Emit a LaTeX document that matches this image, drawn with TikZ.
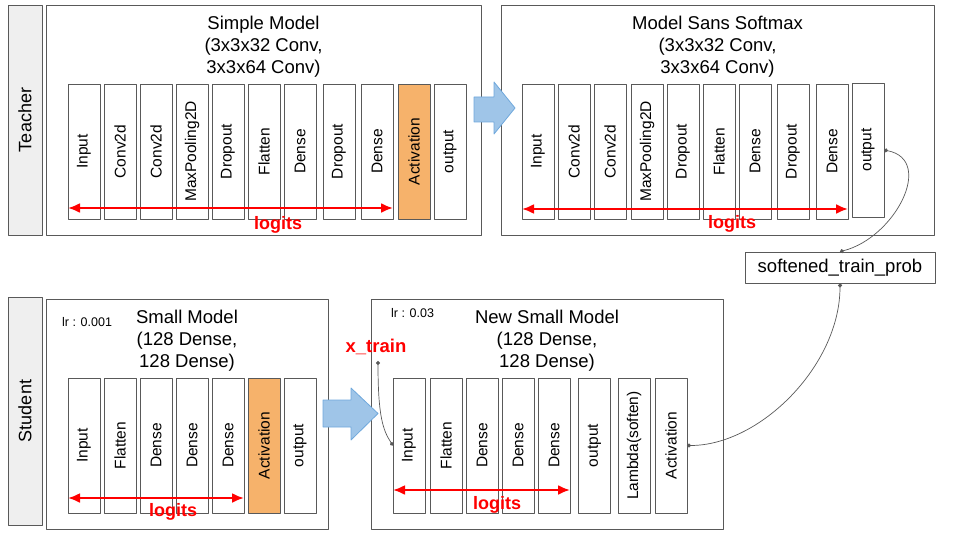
\documentclass[tikz,border=0pt]{standalone}
\usepackage{fontspec}
\setmainfont{Liberation Sans}
\usetikzlibrary{arrows.meta,positioning}
\definecolor{lineg}{HTML}{595959}
\definecolor{sidefill}{HTML}{EFEFEF}
\definecolor{actfill}{HTML}{F6B26B}
\definecolor{pushfill}{HTML}{9FC5E8}
\definecolor{pushline}{HTML}{6FA8DC}
\definecolor{logred}{HTML}{FF0000}
\begin{document}
\begin{tikzpicture}[x=1pt,y=-1pt,line join=round]
	\tikzset{layer/.style={draw=lineg,line width=.8pt,rotate=90,minimum width=135pt,minimum height=32pt,
			inner sep=0pt,outer sep=0pt,font=\fontsize{15.5}{18}\selectfont},
		act/.style={layer,fill=actfill},
		frame/.style={draw=lineg,line width=.8pt,minimum height=230pt,inner sep=0pt,outer sep=0pt},
		side/.style={frame,fill=sidefill,rotate=90,minimum height=34pt,font=\fontsize{18}{22}\selectfont},
		title/.style={align=center,inner sep=0pt,font=\fontsize{18.5}{22}\selectfont},
		lr/.style={inner sep=0pt,anchor=west,font=\fontsize{12.5}{14}\selectfont},
		logit/.style={draw=logred,line width=2.2pt,{Latex[length=12pt,width=10pt]}-{Latex[length=12pt,width=10pt]}},
		logtext/.style={text=logred,font=\fontsize{18}{22}\selectfont\bfseries,inner sep=0pt},
		push/.style={draw=pushline,line width=.8pt,fill=pushfill},
		link/.style={draw=lineg,line width=.7pt,{Circle[length=4pt]}-{Circle[length=4pt]}}}
	\useasboundingbox (0,0) rectangle (960,540);
	\node[side,minimum width=230pt] (teach) at (25,120) {Teacher};
	\node[side,minimum width=228pt] (stud) at (25,411) {Student};
	\node[frame,minimum width=435pt] (M1) at (263.5,120) {};
	\node[frame,minimum width=433pt] (M2) at (717.5,120) {};
	\node[frame,minimum width=282pt] (M3) at (187,414) {};
	\node[frame,minimum width=352pt] (M4) at (547,414) {};
	\node[title,below=11pt of M1.north] {Simple Model\\(3x3x32 Conv,\\3x3x64 Conv)};
	\node[title,below=11pt of M2.north] {Model Sans Softmax\\(3x3x32 Conv,\\3x3x64 Conv)};
	\node[title,below=11pt of M3.north] {Small Model\\(128 Dense,\\128 Dense)};
	\node[title,below=11pt of M4.north] {New Small Model\\(128 Dense,\\128 Dense)};
	\node[lr] at (62,322) {lr : 0.001};
	\node[lr] at (391,313) {lr : 0.03};
	\foreach \x/\t [count=\i] in {84/Input,120/Conv2d,156/Conv2d,192/MaxPooling2D,228/Dropout,
		264/Flatten,300/Dense,339/Dropout,377/Dense}
	\node[layer] (A\i) at (\x,151.5) {\t};
	\node[act] (A10) at (414,151.5) {Activation};
	\node[layer] (A11) at (450,151.5) {output};
	\foreach \x/\t [count=\i] in {538/Input,574/Conv2d,610/Conv2d,647/MaxPooling2D,683/Dropout,
		719/Flatten,755/Dense,793/Dropout,832/Dense}
	\node[layer] (B\i) at (\x,151.5) {\t};
	\node[layer,minimum width=134pt] (B10) at (868,150) {output};
	\foreach \x/\t [count=\i] in {84/Input,120/Flatten,156/Dense,192/Dense,228/Dense}
	\node[layer] (C\i) at (\x,445.5) {\t};
	\node[act] (C6) at (264,445.5) {Activation};
	\node[layer] (C7) at (300,445.5) {output};
	\foreach \x/\t [count=\i] in {409/Input,446/Flatten,482/Dense,518/Dense,554/Dense,
		594.5/output,634/Lambda(soften),671/Activation}
	\node[layer] (D\i) at (\x,445.5) {\t};
	\draw[logit] ([shift={(0,56.5)}]A1.north) -- ([shift={(0,56.5)}]A9.south);
	\draw[logit] ([shift={(0,57.5)}]B1.north) -- ([shift={(0,57.5)}]B9.south);
	\draw[logit] ([shift={(0,52.5)}]C1.north) -- ([shift={(0,52.5)}]C5.south);
	\draw[logit] ([shift={(0,44.5)}]D1.north) -- ([shift={(0,44.5)}]D5.south);
	\foreach \p in {(278,225),(732,224),(173,512),(497,505)}
	\node[logtext] at \p {logits};
	\draw[push] (474,97) -- ++(20,0) -- ++(0,-15) -- (515,108) -- (494,134) -- ++(0,-12) -- ++(-20,0) -- cycle;
	\draw[push] (323,400) -- ++(28,0) -- ++(0,-12) -- (378,413.5) -- (351,440) -- ++(0,-13) -- ++(-28,0) -- cycle;
	\node[draw=lineg,line width=.8pt,minimum width=190pt,minimum height=31pt,inner sep=0pt,
		font=\fontsize{18.5}{22}\selectfont] (soft) at (840,267.5) {softened\_train\_prob};
	\node[logtext,font=\fontsize{18.5}{22}\selectfont\bfseries] (xtr) at (376,347) {x\_train};
	\coordinate (xt) at (378,361);
	\draw[link] (B10.south) .. controls +(51,10) and +(55,-14) .. (soft.north);
	\draw[link] (soft.south) .. controls +(0,82) and +(73,0) .. (D8.south);
	\draw[link] (xt) .. controls +(0,55) and +(-10,-15) .. (D1.north);
\end{tikzpicture}
\end{document}
